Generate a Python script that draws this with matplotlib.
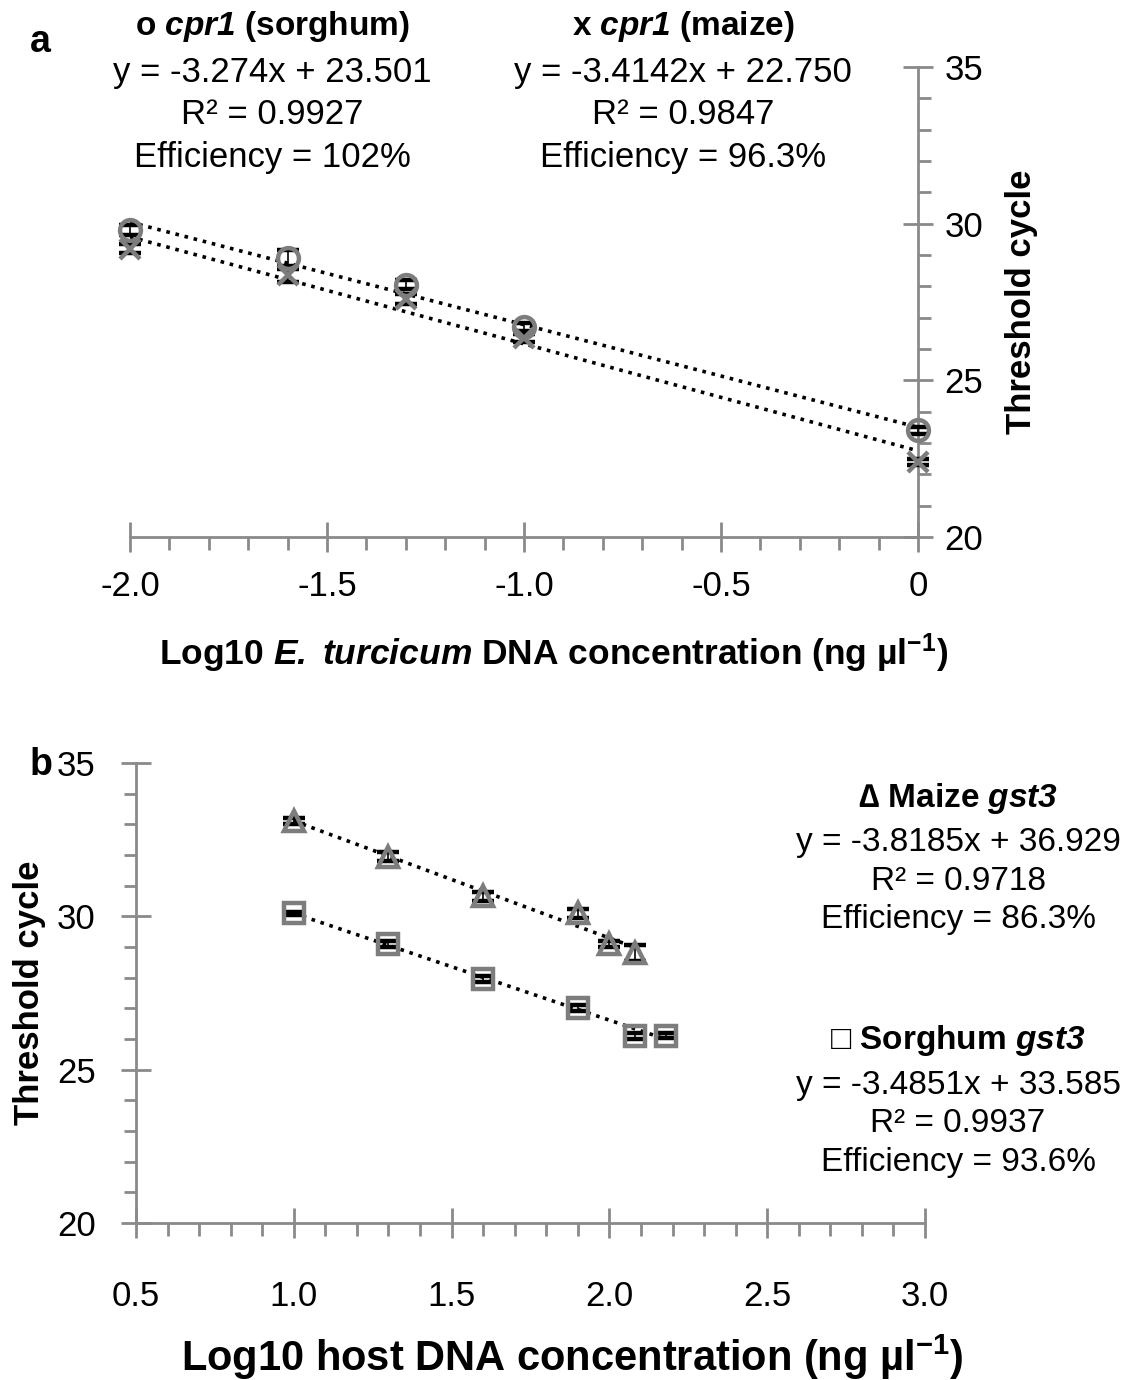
import numpy as np
import matplotlib
matplotlib.use('Agg')
import matplotlib.pyplot as plt
from matplotlib.ticker import MultipleLocator, FormatStrFormatter

plt.rcParams['font.family'] = ['Liberation Sans', 'DejaVu Sans']
plt.rcParams['mathtext.fontset'] = 'custom'
plt.rcParams['mathtext.rm'] = 'Liberation Sans'
plt.rcParams['mathtext.it'] = 'Liberation Sans:italic'
plt.rcParams['mathtext.bf'] = 'Liberation Sans:bold'
plt.rcParams['mathtext.bfit'] = 'Liberation Sans:italic:bold'

# panel a: cpr1 standard curves (E. turcicum DNA)
a_x = [-2.0, -1.6, -1.3, -1.0, 0.0]
a_sorghum = [29.8, 28.9, 28.05, 26.7, 23.4]
a_sorghum_err = [0.15, 0.25, 0.15, 0.12, 0.1]
a_maize = [29.2, 28.35, 27.6, 26.35, 22.4]
a_maize_err = [0.15, 0.2, 0.15, 0.12, 0.1]
a_fit = {'sorghum': (-3.274, 23.501), 'maize': (-3.4142, 22.750)}

# panel b: gst3 host curves
b_x_maize = [1.0, 1.3, 1.6, 1.9, 2.0, 2.08]
b_maize = [33.1, 31.95, 30.65, 30.1, 29.1, 28.8]
b_maize_err = [0.1, 0.15, 0.15, 0.15, 0.1, 0.25]
b_x_sorghum = [1.0, 1.3, 1.6, 1.9, 2.08, 2.18]
b_sorghum = [30.1, 29.1, 27.95, 27.0, 26.1, 26.1]
b_sorghum_err = [0.05, 0.1, 0.1, 0.1, 0.1, 0.08]
b_fit = {'maize': (-3.8185, 36.929), 'sorghum': (-3.4851, 33.585)}

GRAY = '#8a8a8a'
MK = '#7d7d7d'

fig = plt.figure(figsize=(11.43, 13.8), dpi=100)


def style_axes(ax, side):
    for s in ['top', 'left', 'right', 'bottom']:
        ax.spines[s].set_visible(False)
    ax.spines['bottom'].set_visible(True)
    ax.spines[side].set_visible(True)
    for s in ['bottom', side]:
        ax.spines[s].set_color(GRAY)
        ax.spines[s].set_linewidth(2)
    ax.tick_params(which='major', direction='inout', length=22, width=2, color=GRAY,
                   labelsize=25, pad=10)
    ax.tick_params(which='minor', direction='out', length=9, width=2, color=GRAY)
    ax.set_ylim(20, 35)
    ax.yaxis.set_major_locator(MultipleLocator(5))
    ax.yaxis.set_minor_locator(MultipleLocator(1))
    ax.patch.set_alpha(0)


def fit_line(ax, xs, slope, icpt):
    xs = np.array([min(xs), max(xs)])
    ax.plot(xs, slope * xs + icpt, ls=(0, (1, 1.6)), color='black', lw=2.6, zorder=3)


def points(ax, xs, ys, err, marker, ms):
    ax.errorbar(xs, ys, yerr=err, fmt=marker, ms=ms, mfc='none', mec=MK, mew=3.2,
                ecolor='black', elinewidth=1.2, capsize=8, capthick=2.5, clip_on=False, zorder=4)


# ---- panel a ----
ax1 = fig.add_axes([130 / 1143, 1 - 537 / 1380, 788 / 1143, 470 / 1380])
style_axes(ax1, 'right')
ax1.set_xlim(-2.0, 0.0)
ax1.xaxis.set_minor_locator(MultipleLocator(0.1))
ax1.set_xticks([-2.0, -1.5, -1.0, -0.5, 0.0])
ax1.set_xticklabels(['-2.0', '-1.5', '-1.0', '-0.5', '0'])
ax1.yaxis.tick_right()
ax1.yaxis.set_label_position('right')
ax1.tick_params(axis='y', pad=8)
ax1.tick_params(axis='x', pad=13)

points(ax1, a_x, a_sorghum, a_sorghum_err, 'o', 15)
points(ax1, a_x, a_maize, a_maize_err, 'x', 15)
fit_line(ax1, a_x, *a_fit['sorghum'])
fit_line(ax1, a_x, *a_fit['maize'])

ax1.set_ylabel('Threshold cycle', fontsize=25, fontweight='bold', labelpad=16)
ax1.set_xlabel(r'Log10 $\mathbfit{E.}$ $\mathbfit{turcicum}$ DNA concentration (ng µl$^{\mathbf{-1}}$)',
               fontsize=25.5, fontweight='bold', labelpad=20)
ax1.xaxis.label.set_x(0.538)

fig.text(30 / 1143, 1 - 42 / 1380, 'a', fontsize=27, fontweight='bold', va='center')
fig.text(272 / 1143, 1 - 27 / 1380, r'o $\mathbfit{cpr1}$ (sorghum)', fontsize=24,
         fontweight='bold', ha='center', va='center')
fig.text(272 / 1143, 1 - 115 / 1380,
         'y = -3.274x + 23.501\nR² = 0.9927\nEfficiency = 102%',
         fontsize=25, ha='center', va='center', linespacing=1.35)
fig.text(683 / 1143, 1 - 27 / 1380, r'x $\mathbfit{cpr1}$ (maize)', fontsize=24,
         fontweight='bold', ha='center', va='center')
fig.text(683 / 1143, 1 - 115 / 1380,
         'y = -3.4142x + 22.750\nR² = 0.9847\nEfficiency = 96.3%',
         fontsize=25, ha='center', va='center', linespacing=1.35)

# ---- panel b ----
ax2 = fig.add_axes([136 / 1143, 1 - 1223 / 1380, 789 / 1143, 460 / 1380])
style_axes(ax2, 'left')
ax2.set_xlim(0.5, 3.0)
ax2.xaxis.set_major_locator(MultipleLocator(0.5))
ax2.xaxis.set_minor_locator(MultipleLocator(0.1))
ax2.xaxis.set_major_formatter(FormatStrFormatter('%.1f'))
ax2.tick_params(axis='y', pad=18)
ax2.tick_params(axis='x', pad=30)

points(ax2, b_x_maize, b_maize, b_maize_err, '^', 15)
points(ax2, b_x_sorghum, b_sorghum, b_sorghum_err, 's', 15)
fit_line(ax2, b_x_maize, *b_fit['maize'])
fit_line(ax2, b_x_sorghum, *b_fit['sorghum'])

ax2.set_ylabel('Threshold cycle', fontsize=25, fontweight='bold', labelpad=8)
ax2.set_xlabel(r'Log10 host DNA concentration (ng µl$^{\mathbf{-1}}$)',
               fontsize=30, fontweight='bold', labelpad=14)
ax2.xaxis.label.set_x(0.553)

fig.text(30 / 1143, 1 - 765 / 1380, 'b', fontsize=27, fontweight='bold', va='center')
fig.text(958 / 1143, 1 - 798 / 1380, r'∆ Maize $\mathbfit{gst3}$', fontsize=24,
         fontweight='bold', ha='center', va='center')
fig.text(958 / 1143, 1 - 881 / 1380,
         'y = -3.8185x + 36.929\nR² = 0.9718\nEfficiency = 86.3%',
         fontsize=24, ha='center', va='center', linespacing=1.3)
fig.text(958 / 1143, 1 - 1040 / 1380, r'□ Sorghum $\mathbfit{gst3}$', fontsize=24,
         fontweight='bold', ha='center', va='center')
fig.text(958 / 1143, 1 - 1124 / 1380,
         'y = -3.4851x + 33.585\nR² = 0.9937\nEfficiency = 93.6%',
         fontsize=24, ha='center', va='center', linespacing=1.3)

fig.savefig('out.png', dpi=100)
